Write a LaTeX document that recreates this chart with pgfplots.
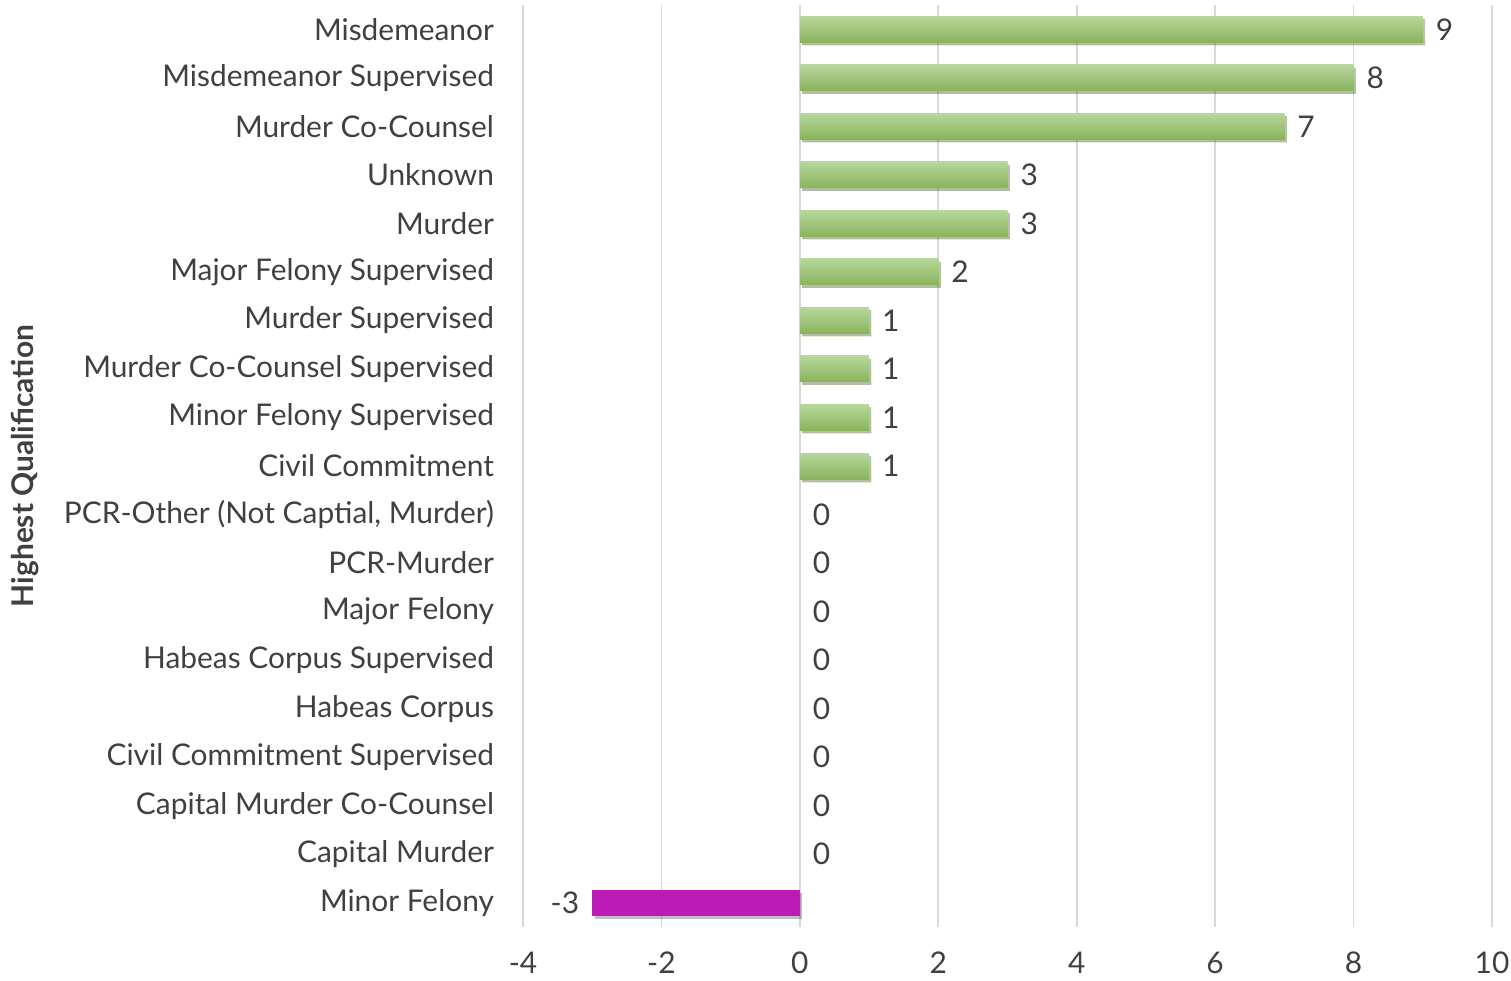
\documentclass[border=0pt]{standalone}
\usepackage{pgfplots}
\pgfplotsset{compat=1.18}
\usepackage{fontspec}
\setmainfont{Lato}
\usetikzlibrary{shadows}
\definecolor{txt}{HTML}{404040}
\definecolor{gridgray}{HTML}{D9D9D9}
\definecolor{gtop}{HTML}{B6D79C}
\definecolor{gbot}{HTML}{8AB35B}
\definecolor{mag}{HTML}{BD1BB5}

\pgfplotsset{
  greenbar/.style={draw=none, top color=gtop, bottom color=gbot,
    drop shadow={shadow xshift=1.2bp, shadow yshift=-1.5bp, opacity=0.25, fill=black},
    nodes near coords style={anchor=west, xshift=3bp}},
}

\begin{document}
\begin{tikzpicture}
\begin{axis}[
    name=ax,
    scale only axis,
    width=484.5bp, height=461bp,
    xmin=-4, xmax=10,
    ymin=-0.5, ymax=18.5,
    y dir=reverse,
    xtick={-4,-2,0,2,4,6,8,10},
    ytick={0,...,18},
    yticklabels={Misdemeanor, Misdemeanor Supervised, Murder Co-Counsel, Unknown, Murder,
      Major Felony Supervised, Murder Supervised, Murder Co-Counsel Supervised,
      Minor Felony Supervised, Civil Commitment, {PCR-Other (Not Captial, Murder)},
      PCR-Murder, Major Felony, Habeas Corpus Supervised, Habeas Corpus,
      Civil Commitment Supervised, Capital Murder Co-Counsel, Capital Murder, Minor Felony},
    xmajorgrids=true,
    grid style={gridgray, line width=0.8bp},
    axis line style={draw=none},
    major tick length=0pt,
    /pgf/number format/assume math mode=true,
    tick label style={font=\fontsize{15}{17}\selectfont, text=txt},
    yticklabel style={xshift=-11bp},
    xticklabel style={yshift=-9bp},
    ylabel={Highest Qualification},
    every axis y label/.style={at={(axis description cs:-0.514,0.5)}, rotate=90, anchor=center,
      font=\fontsize{15}{17}\selectfont\bfseries, text=txt},
    xbar, bar width=13bp, bar shift=0pt,
    nodes near coords,
    nodes near coords style={font=\fontsize{15}{17}\selectfont, text=txt},
    clip=false,
]
\addplot[greenbar] coordinates {(9,0)};
\addplot[greenbar] coordinates {(8,1)};
\addplot[greenbar] coordinates {(7,2)};
\addplot[greenbar] coordinates {(3,3)};
\addplot[greenbar] coordinates {(3,4)};
\addplot[greenbar] coordinates {(2,5)};
\addplot[greenbar] coordinates {(1,6)};
\addplot[greenbar] coordinates {(1,7)};
\addplot[greenbar] coordinates {(1,8)};
\addplot[greenbar] coordinates {(1,9)};
\addplot[draw=none, fill=none,
  nodes near coords style={anchor=west, xshift=3bp}]
  coordinates {(0,10) (0,11) (0,12) (0,13) (0,14) (0,15) (0,16) (0,17)};
\addplot[draw=none, fill=mag,
  drop shadow={shadow xshift=1.2bp, shadow yshift=-1.5bp, opacity=0.25, fill=black},
  nodes near coords style={anchor=east, xshift=-3bp}]
  coordinates {(-3,18)};
\end{axis}
\pgfresetboundingbox
\path ([xshift=-261.5bp,yshift=-27bp]ax.south west) rectangle ([xshift=9.5bp,yshift=2.5bp]ax.north east);
\end{tikzpicture}
\end{document}
